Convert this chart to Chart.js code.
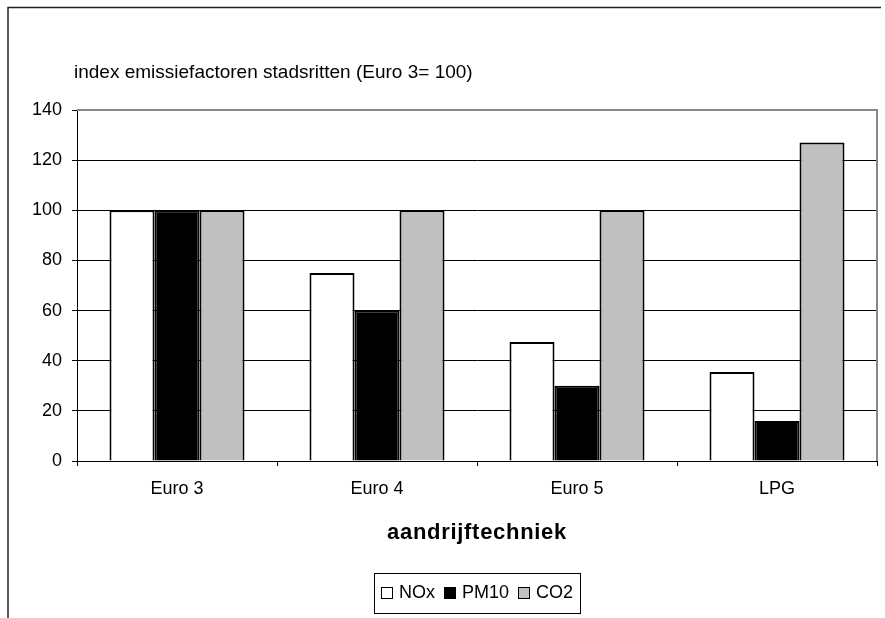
<!DOCTYPE html>
<html>
<head>
<meta charset="utf-8">
<script src="https://cdn.jsdelivr.net/npm/chart.js@4/dist/chart.umd.min.js"></script>
<style>
  html, body { margin: 0; padding: 0; background: #fff; }
  #wrap { width: 885px; height: 618px; position: relative; }
</style>
</head>
<body>
<div id="wrap"><canvas id="c" width="885" height="618"></canvas></div>
<script>
// Emission factor index for city trips, Euro 3 = 100
const categories = ['Euro 3', 'Euro 4', 'Euro 5', 'LPG'];
const seriesNames = ['NOx', 'PM10', 'CO2'];
const noxValues = [100, 75, 47.5, 35.5];
const pm10Values = [100, 60, 30, 16];
const co2Values = [100, 100, 100, 127];
const yTickValues = [0, 20, 40, 60, 80, 100, 120, 140];
const chartTitle = 'index emissiefactoren stadsritten (Euro 3= 100)';
const xAxisTitle = 'aandrijftechniek';

const FONT = '"Liberation Sans", Arial, sans-serif';
const fills = ['#FFFFFF', '#000000', '#C0C0C0'];

// Frame, plot border, captions and boxed legend
const decorations = {
  id: 'decorations',
  afterDraw(chart) {
    const ctx = chart.ctx;
    const a = chart.chartArea;
    ctx.save();

    // outer frame (top and left edges)
    ctx.strokeStyle = '#222';
    ctx.lineWidth = 1.5;
    ctx.beginPath();
    ctx.moveTo(8, 618);
    ctx.lineTo(8, 7.5);
    ctx.lineTo(881, 7.5);
    ctx.stroke();

    // plot area border, top and right
    ctx.strokeStyle = '#888';
    ctx.lineWidth = 2;
    ctx.beginPath();
    ctx.moveTo(a.left, a.top);
    ctx.lineTo(a.right, a.top);
    ctx.lineTo(a.right, a.bottom);
    ctx.stroke();

    // caption above the plot
    ctx.fillStyle = '#000';
    ctx.font = '19px ' + FONT;
    ctx.textAlign = 'left';
    ctx.textBaseline = 'middle';
    ctx.fillText(chartTitle, 74, 73);

    // category axis title
    ctx.save();
    ctx.font = 'bold 22px ' + FONT;
    ctx.letterSpacing = '0.7px';
    ctx.textAlign = 'center';
    ctx.fillText(xAxisTitle, (a.left + a.right) / 2, 533);
    ctx.restore();

    // legend
    ctx.font = '18px ' + FONT;
    ctx.textAlign = 'left';
    ctx.textBaseline = 'middle';
    const box = 12, gapText = 6, gapItem = 9, padX = 7;
    const items = chart.data.datasets.map(ds => ({
      label: ds.label, color: ds.backgroundColor, w: ctx.measureText(ds.label).width
    }));
    let total = 0;
    items.forEach((it, i) => { total += box + gapText + it.w + (i < items.length - 1 ? gapItem : 0); });
    const cx = (a.left + a.right) / 2;
    const lx = cx - total / 2 - padX;
    const lw = total + padX * 2;
    const ly = 573, lh = 40;
    ctx.strokeStyle = '#000';
    ctx.lineWidth = 1;
    ctx.strokeRect(Math.round(lx) + 0.5, ly + 0.5, Math.round(lw), lh);
    let x = lx + padX;
    const midY = ly + lh / 2;
    items.forEach(it => {
      ctx.fillStyle = it.color;
      ctx.fillRect(x, midY - box / 2, box, box);
      ctx.strokeStyle = '#000';
      ctx.lineWidth = 1;
      ctx.strokeRect(Math.round(x) + 0.5, Math.round(midY - box / 2) + 0.5, box - 1, box - 1);
      x += box + gapText;
      ctx.fillStyle = '#000';
      ctx.fillText(it.label, x, midY);
      x += it.w + gapItem;
    });

    ctx.restore();
  }
};

const seriesValues = [noxValues, pm10Values, co2Values];

new Chart(document.getElementById('c'), {
  type: 'bar',
  data: {
    labels: categories,
    datasets: seriesNames.map((name, i) => ({
      label: name,
      data: seriesValues[i],
      backgroundColor: fills[i],
      borderColor: '#000',
      borderWidth: 2,
      categoryPercentage: 0.675,
      barPercentage: 1.0
    }))
  },
  options: {
    responsive: false,
    animation: false,
    devicePixelRatio: 1,
    layout: { padding: { left: 0, top: 110, right: 8, bottom: 0 } },
    plugins: {
      legend: { display: false },
      title: { display: false },
      tooltip: { enabled: false }
    },
    scales: {
      x: {
        offset: true,
        grid: {
          display: true,
          drawOnChartArea: false,
          drawTicks: true,
          tickLength: 5,
          color: '#000',
          offset: true
        },
        border: { display: true, color: '#000', width: 1 },
        ticks: { color: '#000', font: { family: FONT, size: 18 }, padding: 12, maxRotation: 0 },
        title: { display: false },
        afterFit(scale) { scale.height = 157; }
      },
      y: {
        min: 0,
        max: 140,
        afterBuildTicks(scale) { scale.ticks = yTickValues.map(v => ({ value: v })); },
        grid: {
          color: ctx => (ctx.tick && ctx.tick.value === 140) ? 'rgba(0,0,0,0)' : '#000',
          tickColor: '#000',
          tickLength: 5,
          lineWidth: 1
        },
        border: { display: true, color: '#000', width: 1 },
        ticks: { color: '#000', font: { family: FONT, size: 18 }, padding: 10 },
        afterFit(scale) { scale.width = 77; }
      }
    }
  },
  plugins: [decorations]
});
</script>
</body>
</html>
